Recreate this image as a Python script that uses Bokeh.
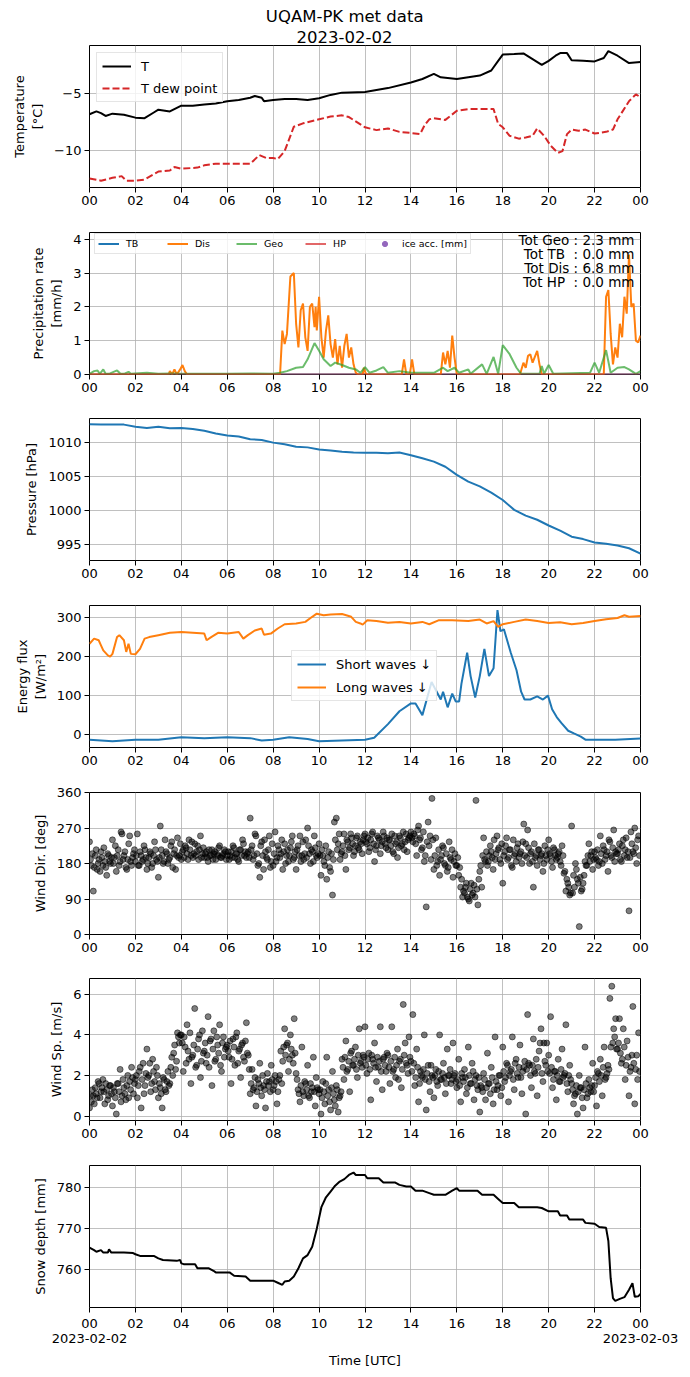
import numpy as np
from bokeh.plotting import figure
from bokeh.layouts import column
from bokeh.models import Range1d, FixedTicker, Legend, LegendItem, Label, Title
from bokeh.embed import file_html
from bokeh.resources import INLINE

FONT = "DejaVu Sans"
FW, FH = 551, 142

# ---------------- data ----------------
hour_ticks = [0, 2, 4, 6, 8, 10, 12, 14, 16, 18, 20, 22, 24]
hour_labels = ["00", "02", "04", "06", "08", "10", "12", "14", "16", "18", "20", "22", "00"]
title_text = "UQAM-PK met data"
date_start = "2023-02-02"
date_end = "2023-02-03"

# Temperature
t_T = [0, 0.3, 0.5, 0.7, 1.0, 1.5, 2.0, 2.4, 2.8, 3.0, 3.5, 4.0, 4.5, 5.0, 5.5, 6.0, 6.5, 7.0, 7.2, 7.5,
       7.6, 8.0, 8.5, 9.0, 9.5, 10.0, 10.5, 11.0, 12.0, 13.0, 14.0, 14.5, 15.0, 15.3, 16.0, 16.5, 17.0, 17.5,
       17.8, 18.0, 18.5, 18.9, 19.3, 19.7, 20.0, 20.3, 20.5, 20.8, 21.0, 21.5, 22.0, 22.4, 22.6, 23.0, 23.5, 24.0]
temp = [-6.85, -6.6, -6.75, -7.0, -6.8, -6.9, -7.15, -7.2, -6.7, -6.45, -6.6, -6.1, -6.1, -6.0, -5.9, -5.7,
        -5.6, -5.4, -5.25, -5.4, -5.7, -5.6, -5.5, -5.5, -5.6, -5.45, -5.15, -4.95, -4.9, -4.55, -4.05, -3.75,
        -3.3, -3.6, -3.75, -3.6, -3.45, -3.0, -2.15, -1.6, -1.55, -1.5, -2.0, -2.5, -2.15, -1.7, -1.47, -1.47,
        -2.1, -2.15, -2.2, -1.9, -1.3, -1.7, -2.35, -2.25]
t_Td = [0, 0.5, 1.0, 1.4, 1.6, 2.0, 2.4, 3.0, 3.5, 3.7, 4.0, 4.7, 5.0, 5.5, 6.0, 7.0, 7.4, 7.7, 8.0, 8.2,
        8.5, 8.9, 9.3, 10.0, 10.5, 11.0, 11.3, 12.0, 12.5, 13.0, 13.5, 14.0, 14.4, 14.6, 14.8, 15.0, 15.5,
        16.0, 16.5, 17.0, 17.6, 17.8, 18.0, 18.3, 18.7, 19.0, 19.3, 19.5, 19.8, 20.1, 20.4, 20.6, 20.8, 21.0,
        21.3, 21.6, 22.0, 22.5, 22.8, 23.0, 23.5, 23.8, 24.0]
dew = [-12.5, -12.7, -12.45, -12.3, -12.7, -12.7, -12.6, -11.9, -11.8, -11.5, -11.65, -11.55, -11.35, -11.2,
       -11.2, -11.2, -10.45, -10.7, -10.7, -10.8, -10.1, -7.95, -7.65, -7.3, -7.05, -6.95, -7.1, -8.0, -8.25,
       -8.1, -8.4, -8.5, -8.6, -7.8, -7.3, -7.2, -7.35, -6.55, -6.4, -6.4, -6.4, -7.7, -8.0, -8.75, -9.0, -8.9,
       -8.75, -8.1, -8.75, -9.65, -10.25, -10.1, -8.6, -8.2, -8.3, -8.2, -8.55, -8.4, -8.2, -7.3, -5.7, -5.1, -5.35]

# Precipitation rates [mm/h]
t_dis = [0, 3.45, 3.5, 3.6, 3.7, 3.8, 3.95, 4.05, 4.15, 4.25, 8.3, 8.4, 8.5, 8.6, 8.75, 8.9, 9.0, 9.1, 9.2,
         9.3, 9.4, 9.5, 9.6, 9.7, 9.8, 9.85, 9.9, 10.0, 10.1, 10.2, 10.3, 10.4, 10.5, 10.6, 10.7, 10.8, 10.9,
         11.0, 11.1, 11.2, 11.3, 11.4, 11.5, 11.6, 11.7, 11.9, 11.95, 12.05, 13.6, 13.7, 13.8, 13.95, 14.05,
         14.15, 15.3, 15.4, 15.5, 15.6, 15.7, 15.8, 15.9, 16.0, 18.75, 18.9, 19.0, 19.1, 19.2, 19.3, 19.5,
         19.6, 19.7, 22.4, 22.5, 22.6, 22.7, 22.8, 22.9, 23.0, 23.1, 23.2, 23.3, 23.4, 23.5, 23.6, 23.7, 23.8,
         23.9, 24.0]
dis = [0, 0, 0.1, 0, 0.15, 0, 0.15, 0.28, 0.1, 0, 0, 1.3, 0.9, 1.2, 2.9, 3.0, 1.5, 0.8, 1.9, 2.1, 1.1, 0.7,
       2.0, 2.1, 1.4, 2.0, 1.3, 2.3, 1.1, 0.5, 1.3, 1.75, 0.9, 0.5, 1.05, 0.3, 0.85, 0.2, 0.85, 1.2, 0.5, 0.8,
       0.3, 0.05, 0, 0, 0.2, 0, 0, 0.45, 0, 0, 0.45, 0, 0, 0.65, 0.3, 0.7, 0.2, 1.15, 0.5, 0, 0, 0.35, 0.2,
       0.55, 0.6, 0.35, 0.7, 0.3, 0, 0, 2.3, 2.5, 1.2, 0.3, 0.8, 0.5, 1.5, 1.1, 2.3, 1.8, 3.55, 2.0, 2.1, 1.0,
       0.95, 1.15]
t_geo = [0, 0.2, 0.35, 0.45, 0.6, 0.7, 0.85, 1.2, 1.35, 1.5, 1.7, 1.8, 2.5, 3.0, 3.5, 4.0, 5.0, 6.0, 7.0,
         8.0, 8.3, 8.6, 9.0, 9.3, 9.5, 9.8, 10.0, 10.2, 10.5, 10.7, 11.0, 11.3, 11.6, 11.8, 12.0, 12.2, 12.5,
         12.8, 13.0, 13.5, 14.0, 15.0, 15.4, 15.6, 15.9, 16.1, 16.5, 16.6, 17.1, 17.3, 17.6, 17.8, 18.0, 18.3,
         18.6, 18.8, 19.6, 19.7, 19.8, 20.0, 20.2, 21.8, 22.0, 22.2, 22.5, 22.7, 23.0, 23.3, 23.5, 23.8, 24.0]
geo = [0.02, 0.1, 0.12, 0.02, 0.15, 0.02, 0.02, 0.12, 0.02, 0.02, 0.08, 0.02, 0.05, 0.02, 0.03, 0.02, 0.02,
       0.02, 0.03, 0.02, 0.05, 0.1, 0.2, 0.22, 0.45, 0.93, 0.7, 0.45, 0.25, 0.35, 0.28, 0.2, 0.15, 0.05, 0.22,
       0.05, 0.12, 0.22, 0.05, 0.1, 0.05, 0.05, 0.2, 0.1, 0.2, 0.05, 0.15, 0.02, 0.3, 0.02, 0.52, 0.02, 0.87,
       0.6, 0.2, 0.02, 0.02, 0.25, 0.02, 0.28, 0.02, 0.05, 0.35, 0.05, 0.72, 0.05, 0.2, 0.22, 0.15, 0.02, 0.1]
t_zero = [0, 24]
tb = [0.0, 0.0]
hp = [0.0, 0.0]
t_ice = [0.0]
ice_acc = [float("nan")]
tot_labels = ["Tot Geo : 2.3 mm", "Tot TB  : 0.0 mm", "Tot Dis : 6.8 mm", "Tot HP  : 0.0 mm"]

# Pressure (every 30 min)
t_pres = [i * 0.5 for i in range(49)]
pres = [1012.65, 1012.6, 1012.6, 1012.6, 1012.3, 1012.1, 1012.3, 1012.05, 1012.1, 1011.95, 1011.7, 1011.3,
        1011.0, 1010.85, 1010.45, 1010.35, 1009.95, 1009.7, 1009.35, 1009.25, 1008.95, 1008.8, 1008.6,
        1008.5, 1008.45, 1008.45, 1008.4, 1008.5, 1008.1, 1007.65, 1007.15, 1006.4, 1005.2, 1004.2, 1003.5,
        1002.6, 1001.5, 1000.05, 999.2, 998.6, 997.75, 997.0, 996.1, 995.75, 995.25, 995.05, 994.8, 994.4,
        993.6]

# Radiation
t_lw = [0, 0.2, 0.4, 0.5, 0.6, 0.8, 0.9, 1.0, 1.2, 1.3, 1.5, 1.6, 1.7, 1.8, 2.0, 2.2, 2.4, 2.6, 3.0, 3.5,
        4.0, 4.5, 5.0, 5.1, 5.3, 5.6, 6.0, 6.5, 6.7, 6.9, 7.2, 7.5, 7.6, 7.9, 8.2, 8.5, 9.0, 9.4, 9.7, 9.9,
        10.2, 10.5, 11.0, 11.4, 11.6, 11.8, 11.9, 12.1, 12.5, 13.0, 13.5, 14.0, 14.5, 14.8, 15.2, 15.8, 16.5,
        17.0, 17.3, 17.6, 17.8, 18.0, 18.5, 19.0, 19.5, 20.0, 20.5, 21.0, 21.5, 22.0, 22.5, 23.0, 23.3, 23.5, 24.0]
lw = [233, 246, 242, 229, 216, 203, 200, 207, 250, 255, 242, 212, 233, 207, 206, 220, 246, 250, 255, 261,
      263, 261, 259, 242, 250, 261, 259, 263, 246, 255, 267, 272, 256, 259, 272, 283, 285, 289, 302, 310,
      306, 308, 309, 302, 289, 285, 282, 293, 291, 287, 289, 285, 289, 283, 293, 293, 291, 295, 285, 291,
      276, 283, 289, 295, 291, 286, 288, 283, 286, 291, 296, 299, 306, 302, 304]
t_sw = [0, 1, 2, 3, 4, 5, 6, 7, 7.5, 8, 8.7, 9.5, 10, 11, 12, 12.4, 13.0, 13.5, 14.0, 14.2, 14.5, 14.9,
        15.3, 15.4, 15.6, 15.8, 15.95, 16.1, 16.2, 16.45, 16.6, 16.8, 17.0, 17.2, 17.4, 17.6, 17.77, 17.9,
        18.05, 18.35, 18.6, 18.8, 18.95, 19.2, 19.5, 19.75, 19.97, 20.15, 20.35, 20.55, 20.85, 21.1, 21.4,
        21.6, 22.9, 24]
sw = [-13, -17, -13, -13, -7, -9, -7, -9, -15, -13, -7, -11, -17, -15, -13, -8, 27, 60, 80, 80, 50, 135,
      90, 110, 70, 105, 85, 85, 130, 210, 150, 95, 150, 220, 150, 170, 319, 265, 270, 210, 165, 110, 90,
      90, 98, 90, 100, 65, 45, 30, 10, 3, -5, -13, -13, -10]

# Wind (two interleaved 5-minute sample sets, one list per hour)
wind_dir_a = [
    [235, 175, 110, 200, 165, 190, 210, 175, 185, 150, 200, 180],
    [240, 195, 160, 215, 185, 255, 200, 170, 190, 250, 175, 205],
    [185, 255, 175, 200, 190, 215, 165, 195, 205, 180, 235, 190],
    [145, 275, 200, 185, 210, 180, 195, 235, 205, 165, 245, 200],
    [190, 215, 225, 205, 240, 200, 195, 230, 210, 190, 250, 205],
    [195, 210, 185, 200, 215, 205, 190, 200, 225, 195, 205, 210],
    [200, 190, 210, 225, 195, 205, 185, 215, 240, 200, 195, 210],
    [295, 225, 200, 250, 175, 145, 235, 165, 210, 190, 250, 185],
    [175, 260, 195, 215, 205, 165, 230, 200, 185, 220, 250, 195],
    [165, 225, 250, 200, 190, 240, 270, 205, 215, 185, 220, 195],
    [230, 150, 200, 175, 140, 210, 160, 100, 285, 295, 230, 190],
    [210, 255, 165, 235, 220, 245, 200, 225, 250, 215, 230, 240],
    [255, 230, 210, 240, 260, 185, 225, 245, 205, 235, 250, 220],
    [215, 240, 255, 205, 230, 195, 250, 225, 260, 235, 210, 245],
    [260, 235, 250, 200, 275, 245, 220, 185, 70, 285, 250, 345],
    [165, 245, 185, 150, 200, 220, 175, 160, 235, 190, 145, 205],
    [175, 150, 120, 95, 105, 130, 90, 115, 100, 125, 340, 75],
    [160, 120, 245, 185, 175, 200, 210, 165, 190, 250, 220, 180],
    [130, 210, 245, 195, 215, 170, 200, 185, 230, 205, 180, 280],
    [230, 265, 180, 210, 120, 195, 175, 215, 200, 160, 225, 190],
    [240, 200, 170, 215, 190, 205, 185, 225, 155, 110, 130, 100],
    [275, 150, 180, 140, 20, 110, 130, 185, 175, 230, 200, 165],
    [210, 190, 175, 250, 180, 215, 200, 160, 235, 195, 265, 210],
    [205, 230, 185, 240, 215, 195, 60, 260, 210, 270, 180, 250],
]
wind_dir_b = [
    [190, 205, 170, 215, 180, 160, 195, 220, 170, 205, 185, 195],
    [180, 225, 200, 175, 260, 190, 210, 165, 230, 185, 195, 215],
    [200, 175, 210, 185, 225, 195, 180, 210, 170, 200, 215, 185],
    [195, 215, 180, 240, 205, 190, 225, 170, 215, 200, 195, 230],
    [210, 195, 220, 190, 215, 235, 205, 200, 225, 215, 195, 220],
    [205, 195, 215, 200, 190, 210, 205, 220, 195, 200, 215, 190],
    [210, 200, 195, 220, 205, 190, 215, 200, 230, 210, 205, 195],
    [215, 190, 255, 205, 180, 225, 200, 240, 195, 215, 170, 230],
    [205, 185, 225, 195, 240, 210, 180, 215, 200, 235, 190, 210],
    [215, 200, 185, 235, 205, 195, 225, 180, 210, 250, 200, 205],
    [200, 215, 185, 225, 195, 170, 205, 190, 240, 215, 255, 205],
    [225, 200, 240, 215, 255, 230, 210, 245, 220, 235, 205, 250],
    [235, 245, 220, 255, 230, 215, 250, 240, 225, 260, 230, 245],
    [240, 225, 210, 250, 235, 220, 245, 230, 215, 255, 240, 250],
    [245, 255, 230, 265, 240, 215, 260, 200, 235, 225, 190, 240],
    [200, 175, 215, 190, 225, 180, 205, 170, 195, 215, 185, 175],
    [195, 170, 140, 110, 120, 95, 85, 130, 105, 95, 115, 140],
    [175, 200, 190, 210, 185, 225, 195, 240, 205, 215, 190, 230],
    [200, 225, 190, 215, 175, 240, 205, 220, 195, 210, 235, 200],
    [195, 220, 205, 185, 230, 200, 215, 190, 205, 180, 200, 215],
    [205, 185, 220, 200, 195, 210, 175, 200, 160, 140, 120, 105],
    [105, 120, 165, 130, 145, 115, 150, 175, 200, 185, 210, 190],
    [195, 215, 185, 205, 225, 190, 210, 240, 200, 220, 185, 205],
    [215, 190, 225, 200, 245, 210, 195, 230, 205, 220, 240, 200],
]
wind_sp_a = [
    [0.4, 0.7, 1.0, 1.4, 0.9, 1.6, 1.2, 1.8, 0.6, 1.3, 1.0, 1.5],
    [0.5, 1.2, 0.1, 1.6, 2.3, 1.0, 1.4, 0.8, 2.0, 1.7, 2.4, 1.1],
    [1.8, 0.9, 2.2, 0.4, 2.6, 1.5, 3.3, 2.0, 1.2, 2.8, 1.7, 2.4],
    [0.9, 1.4, 0.4, 1.8, 1.2, 2.2, 1.6, 2.9, 3.1, 2.3, 4.1, 3.6],
    [4.0, 2.2, 3.4, 4.5, 2.8, 1.6, 3.0, 5.3, 2.5, 3.8, 1.9, 4.2],
    [3.2, 2.6, 4.9, 3.7, 1.5, 4.2, 2.8, 3.5, 4.5, 2.2, 3.9, 3.3],
    [3.5, 2.9, 1.6, 3.8, 2.5, 4.1, 3.2, 1.9, 3.6, 2.7, 4.6, 3.0],
    [1.1, 2.3, 1.4, 0.5, 1.8, 2.6, 1.0, 1.5, 0.4, 2.1, 1.7, 2.5],
    [1.3, 2.0, 0.6, 1.8, 3.2, 2.7, 4.3, 3.5, 2.2, 4.0, 3.0, 4.8],
    [2.1, 1.3, 0.7, 3.4, 1.0, 1.6, 2.5, 0.9, 1.2, 2.9, 0.5, 1.4],
    [1.1, 0.1, 1.7, 0.6, 2.9, 1.3, 0.3, 2.2, 0.8, 1.5, 0.2, 1.0],
    [2.8, 1.8, 3.7, 2.3, 1.2, 3.2, 2.5, 3.4, 1.9, 4.3, 2.7, 3.0],
    [4.4, 2.1, 3.1, 0.8, 2.8, 3.6, 1.7, 2.4, 4.4, 1.3, 2.9, 2.2],
    [3.0, 1.6, 4.4, 2.3, 1.9, 3.3, 2.7, 1.4, 5.5, 3.6, 2.5, 3.9],
    [2.7, 5.0, 1.5, 3.3, 0.7, 2.2, 1.9, 4.0, 0.3, 2.5, 1.2, 2.0],
    [0.9, 2.3, 1.5, 4.0, 1.8, 2.6, 1.1, 3.3, 2.0, 1.6, 3.6, 2.1],
    [1.4, 2.8, 0.7, 1.9, 2.3, 1.1, 3.4, 1.6, 2.6, 0.8, 2.0, 1.3],
    [0.2, 1.4, 2.1, 0.8, 3.1, 1.6, 2.4, 0.6, 3.9, 1.3, 2.0, 1.0],
    [3.4, 1.7, 2.6, 0.7, 2.2, 3.9, 1.3, 2.8, 1.9, 3.5, 1.1, 2.4],
    [0.1, 5.0, 2.5, 1.4, 3.8, 2.1, 1.0, 3.2, 4.3, 1.7, 2.7, 3.6],
    [3.0, 4.9, 1.4, 2.2, 0.8, 2.8, 1.7, 3.3, 2.0, 4.5, 1.2, 2.5],
    [1.6, 0.6, 1.1, 0.1, 2.0, 1.4, 0.4, 3.4, 0.9, 1.8, 1.2, 2.6],
    [1.5, 0.5, 2.1, 2.8, 1.0, 3.4, 1.9, 2.5, 5.8, 6.4, 4.3, 4.8],
    [3.3, 4.8, 2.6, 4.3, 1.8, 3.7, 1.0, 2.4, 5.4, 0.6, 3.0, 4.1],
]
wind_sp_b = [
    [1.0, 1.3, 0.6, 1.1, 1.7, 0.9, 1.4, 1.2, 1.6, 0.8, 1.5, 1.1],
    [1.4, 0.9, 1.6, 1.2, 0.7, 1.8, 1.1, 1.5, 0.9, 1.3, 1.9, 1.6],
    [2.0, 1.5, 2.4, 1.8, 1.1, 2.1, 1.9, 2.6, 1.6, 2.2, 1.3, 2.0],
    [1.6, 1.1, 1.9, 1.3, 1.7, 1.5, 2.4, 2.0, 3.5, 2.7, 3.9, 4.0],
    [3.6, 3.9, 2.6, 3.2, 4.1, 2.9, 3.5, 2.4, 3.3, 4.0, 2.7, 3.1],
    [3.6, 3.0, 2.4, 3.8, 3.3, 2.7, 3.9, 3.1, 2.5, 3.6, 2.9, 3.4],
    [3.2, 3.7, 2.8, 3.4, 3.9, 2.6, 3.3, 3.5, 2.9, 3.7, 3.1, 2.3],
    [1.6, 1.3, 1.9, 1.2, 1.6, 1.4, 2.0, 1.3, 1.7, 1.5, 1.2, 1.8],
    [1.5, 1.7, 1.2, 2.0, 1.6, 3.4, 3.0, 3.6, 2.8, 3.3, 2.6, 3.1],
    [1.8, 1.1, 1.5, 1.2, 1.7, 1.3, 1.0, 1.6, 1.4, 1.2, 1.9, 1.3],
    [1.3, 0.9, 1.2, 1.6, 1.0, 0.7, 1.4, 1.1, 0.5, 1.3, 0.9, 1.2],
    [2.4, 2.9, 2.2, 2.7, 3.1, 2.5, 2.8, 2.3, 3.0, 2.6, 2.4, 2.9],
    [2.5, 2.8, 2.3, 3.0, 2.6, 2.4, 2.9, 2.7, 2.2, 2.8, 2.5, 3.1],
    [2.4, 2.7, 2.2, 2.9, 2.5, 1.8, 2.8, 2.3, 3.0, 2.6, 2.1, 2.9],
    [2.2, 2.6, 1.9, 2.4, 1.6, 2.0, 2.3, 1.8, 2.1, 1.7, 2.5, 1.9],
    [2.0, 1.7, 2.2, 1.8, 2.1, 1.9, 1.6, 2.0, 2.3, 1.8, 2.0, 1.7],
    [1.8, 1.5, 2.1, 1.7, 1.9, 1.4, 2.0, 1.6, 2.2, 1.8, 1.5, 1.9],
    [1.5, 1.2, 1.8, 1.4, 1.6, 1.1, 1.9, 1.3, 1.7, 1.5, 2.0, 1.4],
    [2.2, 1.9, 2.5, 2.0, 2.3, 1.8, 2.6, 2.1, 2.4, 1.9, 2.2, 2.7],
    [2.3, 2.6, 2.0, 2.5, 2.2, 2.8, 2.4, 3.6, 2.1, 3.6, 2.5, 2.2],
    [2.1, 2.4, 1.8, 2.2, 2.0, 1.7, 2.3, 1.9, 2.1, 1.6, 2.0, 1.8],
    [1.3, 1.0, 1.5, 1.2, 1.4, 0.9, 1.3, 1.6, 1.1, 1.4, 1.5, 1.2],
    [1.9, 2.2, 1.7, 2.0, 2.4, 1.8, 2.1, 2.3, 3.4, 3.6, 3.9, 3.3],
    [3.6, 3.1, 2.8, 3.4, 2.5, 2.9, 2.2, 3.0, 2.6, 2.3, 1.8, 2.2],
]

# Snow depth [mm]
t_snow = [0, 0.2, 0.3, 0.5, 0.6, 0.8, 0.85, 0.95, 1.5, 1.9, 2.0, 2.2, 2.8, 3.0, 3.2, 3.8, 3.95, 4.0, 4.1,
          4.6, 4.7, 5.2, 5.4, 5.5, 6.1, 6.3, 6.8, 7.0, 8.0, 8.2, 8.4, 8.5, 8.7, 8.9, 9.1, 9.3, 9.5, 9.7, 9.9,
          10.1, 10.3, 10.5, 10.7, 10.9, 11.1, 11.3, 11.5, 11.6, 12.0, 12.1, 12.6, 12.8, 13.3, 13.5, 13.8,
          14.0, 14.2, 14.5, 14.8, 15.0, 15.5, 15.8, 16.0, 16.1, 16.9, 17.1, 17.6, 17.8, 18.0, 18.5, 18.7,
          19.5, 19.7, 20.0, 20.4, 20.5, 20.8, 20.9, 21.5, 21.6, 22.0, 22.2, 22.5, 22.6, 22.7, 22.8, 22.9,
          23.1, 23.3, 23.5, 23.65, 23.75, 23.9, 24.0]
snow = [765.4, 764.8, 764.4, 764.8, 764.2, 764.2, 765.0, 764.2, 764.2, 764.1, 763.8, 763.4, 763.4, 762.8,
        762.4, 762.2, 762.4, 761.6, 761.4, 761.4, 760.4, 760.4, 759.8, 759.4, 759.4, 758.6, 758.4, 757.4,
        757.4, 756.9, 756.4, 757.2, 757.4, 758.4, 760.4, 762.8, 763.6, 765.6, 770.0, 775.2, 777.6, 779.0,
        780.4, 781.4, 782.0, 783.0, 783.6, 783.0, 783.0, 782.2, 782.2, 781.2, 781.2, 780.6, 780.2, 780.2,
        779.2, 779.2, 778.6, 778.2, 778.2, 779.2, 779.8, 779.2, 779.2, 778.2, 778.2, 777.2, 776.2, 776.2,
        775.2, 775.2, 775.0, 774.2, 774.2, 773.2, 773.2, 772.2, 772.2, 771.4, 771.2, 770.4, 770.2, 767.0,
        758.0, 753.2, 752.5, 753.0, 753.4, 755.2, 756.8, 753.5, 753.6, 754.2]

# ---------------- helpers ----------------
LEFT, RIGHT = 89, 50


def make_fig(ymin, ymax, yticks, ylabel, top, bottom, ylabel_over=None):
    p = figure(frame_width=FW, frame_height=FH, x_range=Range1d(0, 24), y_range=Range1d(ymin, ymax),
               output_backend="svg", toolbar_location=None,
               min_border_left=LEFT, min_border_right=RIGHT, min_border_top=top, min_border_bottom=bottom)
    p.background_fill_color = "white"
    p.border_fill_color = "white"
    p.outline_line_color = "black"
    p.outline_line_alpha = 1
    p.outline_line_width = 1
    for ax in (p.xaxis, p.yaxis):
        ax.axis_line_color = None
        ax.major_tick_out = 5
        ax.major_tick_in = 0
        ax.major_tick_line_color = "black"
        ax.minor_tick_line_color = None
        ax.major_label_text_font = FONT
        ax.major_label_text_font_size = "13px"
        ax.major_label_text_color = "black"
        ax.axis_label_text_font = FONT
        ax.axis_label_text_font_size = "13px"
        ax.axis_label_text_font_style = "normal"
        ax.axis_label_text_color = "black"
        ax.major_label_standoff = 3
    p.xaxis.ticker = FixedTicker(ticks=hour_ticks, minor_ticks=[])
    p.xaxis.major_label_overrides = {h: lab for h, lab in zip(hour_ticks, hour_labels)}
    p.yaxis.ticker = FixedTicker(ticks=yticks, minor_ticks=[])
    if ylabel_over:
        p.yaxis.major_label_overrides = ylabel_over
    p.yaxis.axis_label = ylabel
    p.yaxis.axis_label_standoff = 6
    p.grid.grid_line_color = "#b0b0b0"
    p.grid.grid_line_width = 0.8
    p.grid.grid_line_alpha = 1
    return p


def style_legend(leg, size="13px"):
    leg.label_text_font = FONT
    leg.label_text_font_size = size
    leg.label_text_color = "black"
    leg.border_line_color = "#cccccc"
    leg.border_line_width = 1
    leg.background_fill_color = "white"
    leg.background_fill_alpha = 0.8


# ---------------- panel 1: temperature ----------------
p1 = make_fig(-13.3, -0.8, [-10, -5], "Temperature\n[°C]", 45, 27, {-10: "\u221210", -5: "\u22125"})
p1.add_layout(Title(text=date_start, align="right", offset=248, text_font=FONT, text_font_size="16.5px",
                    text_font_style="normal", text_color="black", standoff=6), "above")
p1.add_layout(Title(text=title_text, align="right", offset=217, text_font=FONT, text_font_size="16.5px",
                    text_font_style="normal", text_color="black", standoff=0), "above")
r_t = p1.line(t_T, temp, line_color="black", line_width=2)
r_td = p1.line(t_Td, dew, line_color="#d62728", line_width=2, line_dash="7 3")
leg1 = Legend(items=[LegendItem(label="T", renderers=[r_t]), LegendItem(label="T dew point", renderers=[r_td])],
              location="top_left", margin=7, padding=5, spacing=6, label_height=16, glyph_height=16,
              glyph_width=29, label_standoff=10)
style_legend(leg1)
p1.add_layout(leg1)

# ---------------- panel 2: precipitation ----------------
p2 = make_fig(0, 4.2, [0, 1, 2, 3, 4], "Precipitation rate\n[mm/h]", 18, 27)
r_tb = p2.line(t_zero, tb, line_color="#1f77b4", line_width=2)
r_dis = p2.line(t_dis, dis, line_color="#ff7f0e", line_width=2)
r_geo = p2.line(t_geo, geo, line_color="#2ca02c", line_alpha=0.7, line_width=2)
r_hp = p2.line(t_zero, hp, line_color="#d62728", line_alpha=0.7, line_width=2)
r_ice = p2.scatter(t_ice, ice_acc, size=5, fill_color="#9467bd", line_color="#9467bd")
leg2 = Legend(items=[LegendItem(label="TB", renderers=[r_tb]), LegendItem(label="Dis", renderers=[r_dis]),
                     LegendItem(label="Geo", renderers=[r_geo]), LegendItem(label="HP", renderers=[r_hp]),
                     LegendItem(label="ice acc. [mm]", renderers=[r_ice])],
              location=(5, FH - 3 - 19), orientation="horizontal", padding=3, spacing=21, label_height=13,
              glyph_height=13, glyph_width=21, label_standoff=7)
style_legend(leg2, "9.5px")
p2.add_layout(leg2)
for i, txt in enumerate(tot_labels):
    p2.add_layout(Label(x=FW - 6, y=FH - 7 - 14.3 * i, x_units="screen", y_units="screen",
                        text=txt.replace("  ", " \u00a0"),
                        text_align="right", text_baseline="middle", text_font=FONT, text_font_size="13.5px",
                        text_color="black"))

# ---------------- panel 3: pressure ----------------
p3 = make_fig(992.6, 1013.5, [995, 1000, 1005, 1010], "Pressure [hPa]", 17, 27)
p3.line(t_pres, pres, line_color="#1f77b4", line_width=2)

# ---------------- panel 4: radiation ----------------
p4 = make_fig(-33, 331, [0, 100, 200, 300], "Energy flux\n[W/m\u00b2]", 18, 27)
r_sw = p4.line(t_sw, sw, line_color="#1f77b4", line_width=2)
r_lw = p4.line(t_lw, lw, line_color="#ff7f0e", line_width=2)
leg4 = Legend(items=[LegendItem(label="Short waves \u2193", renderers=[r_sw]),
                     LegendItem(label="Long waves \u2193", renderers=[r_lw])],
              location=(202, 46), padding=5, spacing=7, label_height=16, glyph_height=16,
              glyph_width=29, label_standoff=10)
style_legend(leg4)
p4.add_layout(leg4)

# ---------------- panels 5 & 6: wind ----------------
t_wind = [h + k / 12 for h in range(24) for k in range(12)] + \
         [h + (k + 0.5) / 12 for h in range(24) for k in range(12)]
wd_flat = [v for row in wind_dir_a for v in row] + [v for row in wind_dir_b for v in row]
ws_flat = [v for row in wind_sp_a for v in row] + [v for row in wind_sp_b for v in row]

p5 = make_fig(0, 360, [0, 90, 180, 270, 360], "Wind Dir. [deg]", 18, 27)
p5.scatter(t_wind, wd_flat, size=6, fill_color="black", fill_alpha=0.5, line_color="black", line_alpha=0.5)

p6 = make_fig(-0.22, 6.78, [0, 2, 4, 6], "Wind Sp. [m/s]", 17, 27)
p6.scatter(t_wind, ws_flat, size=6, fill_color="black", fill_alpha=0.5, line_color="black", line_alpha=0.5)

# ---------------- panel 7: snow depth ----------------
p7 = make_fig(750.9, 785.3, [760, 770, 780], "Snow depth [mm]", 18, 70)
p7.line(t_snow, snow, line_color="black", line_width=2)
over7 = {h: lab for h, lab in zip(hour_ticks, hour_labels)}
over7[0] = "00\n" + date_start
over7[24] = "00\n" + date_end
p7.xaxis.major_label_overrides = over7
p7.xaxis.major_label_text_line_height = 1.0
p7.xaxis.axis_label = "Time [UTC]"
p7.xaxis.axis_label_standoff = 4

layout = column(p1, p2, p3, p4, p5, p6, p7, spacing=0)
open("out.html", "w").write(file_html(layout, INLINE))
